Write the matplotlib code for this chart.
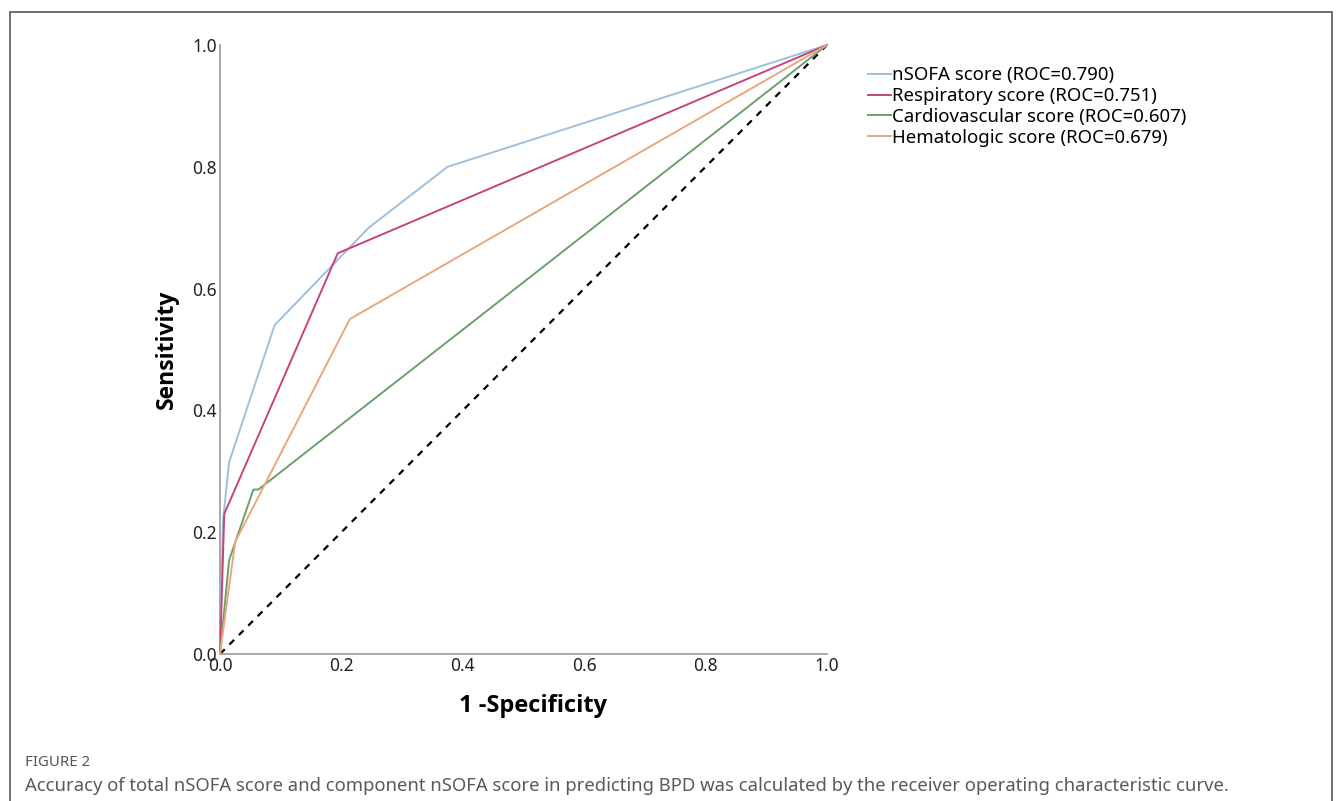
import matplotlib
matplotlib.use("Agg")
import matplotlib.pyplot as plt
from matplotlib.patches import Rectangle

# ROC curve points (1 - specificity, sensitivity)
nsofa_fpr = [0.0, 0.005, 0.015, 0.09, 0.245, 0.375, 1.0]
nsofa_tpr = [0.0, 0.22, 0.315, 0.54, 0.70, 0.80, 1.0]

resp_fpr = [0.0, 0.007, 0.194, 1.0]
resp_tpr = [0.0, 0.23, 0.658, 1.0]

cardio_fpr = [0.0, 0.015, 0.055, 0.063, 1.0]
cardio_tpr = [0.0, 0.154, 0.27, 0.27, 1.0]

hema_fpr = [0.0, 0.025, 0.214, 1.0]
hema_tpr = [0.0, 0.184, 0.55, 1.0]

labels = ["nSOFA score (ROC=0.790)", "Respiratory score (ROC=0.751)",
          "Cardiovascular score (ROC=0.607)", "Hematologic score (ROC=0.679)"]
colors = ["#9cc0de", "#c8437b", "#6c9f6c", "#e9a77c"]
ticks = [0.0, 0.2, 0.4, 0.6, 0.8, 1.0]

plt.rcParams["font.family"] = ["Noto Sans", "DejaVu Sans"]

fig = plt.figure(figsize=(13.38, 8.01), dpi=100)
ax = fig.add_axes([220 / 1338, 1 - 654 / 801, 607 / 1338, 609 / 801])

series = [(nsofa_fpr, nsofa_tpr), (resp_fpr, resp_tpr),
          (cardio_fpr, cardio_tpr), (hema_fpr, hema_tpr)]
for (x, y), lab, col in zip(series, labels, colors):
    ax.plot(x, y, color=col, lw=1.4, label=lab, clip_on=False, zorder=3)

# reference diagonal
ax.plot([0, 1], [0, 1], color="black", lw=1.6, ls=(0, (3, 3)), clip_on=False, zorder=2)

ax.set_xlim(0, 1)
ax.set_ylim(0, 1)
ax.set_xticks(ticks)
ax.set_yticks(ticks)
ax.set_xticklabels([f"{t:.1f}" for t in ticks])
ax.set_yticklabels([f"{t:.1f}" for t in ticks])
ax.tick_params(length=0, labelsize=12.5, colors="#222222", pad=2)
for s in ["top", "right"]:
    ax.spines[s].set_visible(False)
for s in ["left", "bottom"]:
    ax.spines[s].set_color("#a0a0a0")
    ax.spines[s].set_linewidth(1.3)

ax.set_xlabel("1 -Specificity", fontsize=17, fontweight="bold", family=["Open Sans", "DejaVu Sans"], labelpad=14)
ax.xaxis.label.set_x(0.516)
ax.set_ylabel("Sensitivity", fontsize=16.5, fontweight="bold", family=["Open Sans", "DejaVu Sans"], labelpad=10)

fig.legend(loc="upper left", bbox_to_anchor=(859 / 1338, 1 - 57 / 801), frameon=False,
           fontsize=13.4, handlelength=1.2, handletextpad=0.1, labelspacing=0.15,
           borderpad=0)

# outer frame and caption
fig.patches.append(Rectangle((10 / 1338, -0.05), 1322 / 1338, 1 - 12 / 801 + 0.05,
                             transform=fig.transFigure, fill=False,
                             edgecolor="#555555", lw=1.2))
fig.text(25 / 1338, 1 - 762 / 801, "FIGURE 2", fontsize=10.8, color="#555555", va="center")
fig.text(25 / 1338, 1 - 786 / 801,
         "Accuracy of total nSOFA score and component nSOFA score in predicting BPD was "
         "calculated by the receiver operating characteristic curve.",
         fontsize=13.3, color="#5a5a5a", va="center")

fig.savefig("out.png", dpi=100)
